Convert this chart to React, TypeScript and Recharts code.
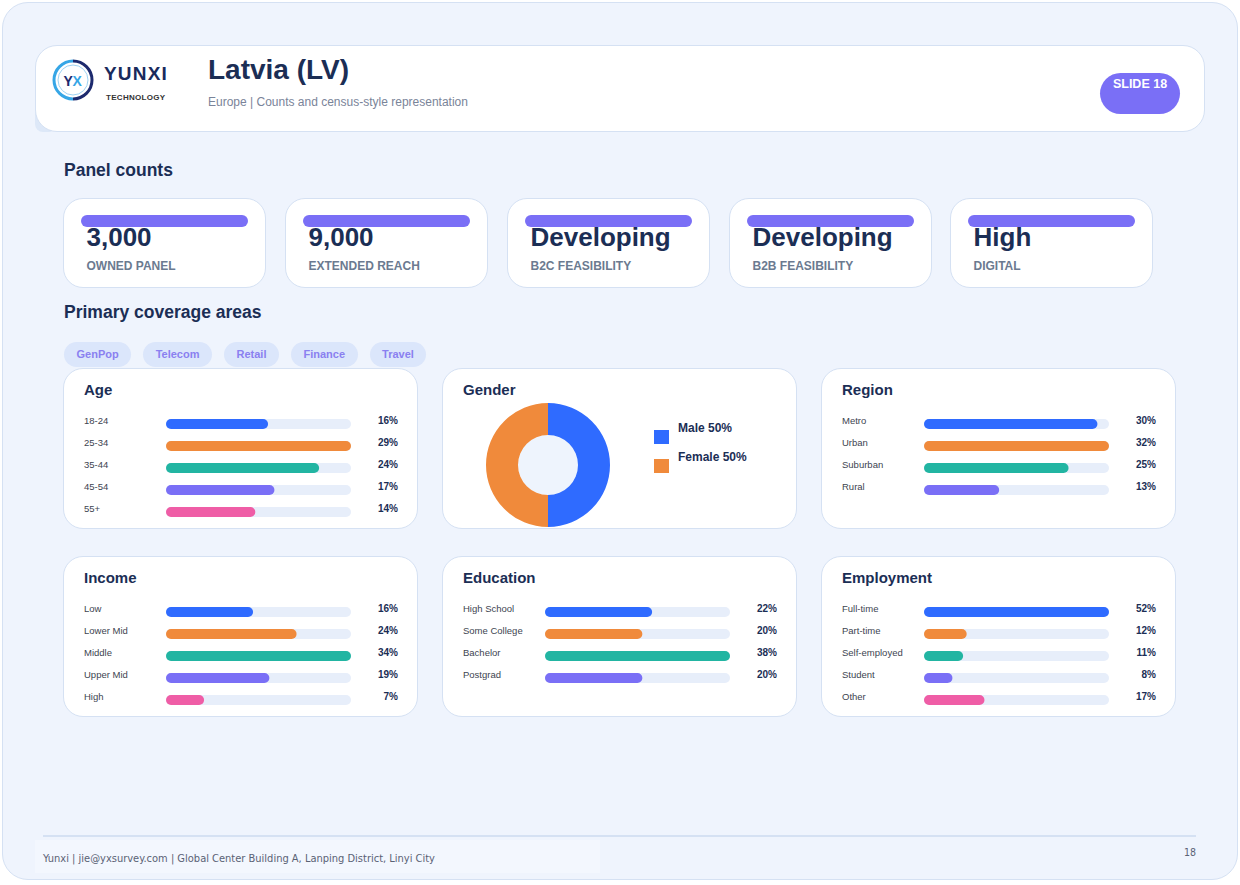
import React from 'react';
import { BarChart, Bar, XAxis, YAxis, Cell, LabelList, PieChart, Pie } from 'recharts';

// ---- data ----
const kpiValues = ['3,000', '9,000', 'Developing', 'Developing', 'High'];
const kpiLabels = ['OWNED PANEL', 'EXTENDED REACH', 'B2C FEASIBILITY', 'B2B FEASIBILITY', 'DIGITAL'];
const coverageTags = ['GenPop', 'Telecom', 'Retail', 'Finance', 'Travel'];

const ageLabels = ['18-24', '25-34', '35-44', '45-54', '55+'];
const ageValues = [16, 29, 24, 17, 14];
const genderLabels = ['Male', 'Female'];
const genderValues = [50, 50];
const regionLabels = ['Metro', 'Urban', 'Suburban', 'Rural'];
const regionValues = [30, 32, 25, 13];
const incomeLabels = ['Low', 'Lower Mid', 'Middle', 'Upper Mid', 'High'];
const incomeValues = [16, 24, 34, 19, 7];
const educationLabels = ['High School', 'Some College', 'Bachelor', 'Postgrad'];
const educationValues = [22, 20, 38, 20];
const employmentLabels = ['Full-time', 'Part-time', 'Self-employed', 'Student', 'Other'];
const employmentValues = [52, 12, 11, 8, 17];

// ---- styles ----
const FONT = '"Liberation Sans", Arial, Helvetica, sans-serif';
const NAVY = '#1b2e55';
const GREY = '#6b7a90';
const PURPLE = '#7a6ff6';
const TRACK = '#e7eefa';
const CARD_BORDER = '#d5e1f3';
const barColors = ['#2f6bff', '#f08a3b', '#22b5a2', '#7a6ff6', '#ef5da6'];
const genderColors = ['#2f6bff', '#f08a3b'];

type TxtProps = {
  x: number; cy: number; size: number; weight?: number; color: string;
  align?: 'left' | 'right' | 'center'; family?: string; spacing?: number; children: React.ReactNode;
};

function Txt({ x, cy, size, weight = 400, color, align = 'left', family = FONT, spacing = 0, children }: TxtProps) {
  const s: React.CSSProperties = {
    position: 'absolute', top: cy - size / 2, fontSize: size, lineHeight: `${size}px`,
    fontWeight: weight, color, whiteSpace: 'nowrap', fontFamily: family, letterSpacing: spacing,
  };
  if (align === 'left') s.left = x;
  if (align === 'right') { s.left = x - 400; s.width = 400; s.textAlign = 'right'; }
  if (align === 'center') { s.left = x - 200; s.width = 400; s.textAlign = 'center'; }
  return <div style={s}>{children}</div>;
}

const nameLabel = (p: any) => {
  const vb = p.viewBox && p.viewBox.height != null ? p.viewBox : p;
  const cy = vb.y + vb.height / 2;
  return (
    <text x={21} y={cy - 3.5} dominantBaseline="central" fontSize={9.5} fill="#3d4450" fontFamily={FONT}>
      {p.value}
    </text>
  );
};

const valueLabel = (p: any) => {
  const vb = p.viewBox && p.viewBox.height != null ? p.viewBox : p;
  const cy = vb.y + vb.height / 2;
  return (
    <text x={335} y={cy - 3.5} dominantBaseline="central" textAnchor="end" fontSize={10} fontWeight={700} fill={NAVY} fontFamily={FONT}>
      {p.value}
    </text>
  );
};

const cardStyle = (left: number, top: number, width: number, height: number, radius = 20): React.CSSProperties => ({
  position: 'absolute', left, top, width, height, background: '#fff',
  border: `1.5px solid ${CARD_BORDER}`, borderRadius: radius, boxSizing: 'border-box',
});

function BarCard({ left, top, title, labels, values }: { left: number; top: number; title: string; labels: string[]; values: number[] }) {
  const data = labels.map((name, i) => ({ name, value: values[i], pct: `${values[i]}%` }));
  const n = data.length;
  return (
    <div style={cardStyle(left, top, 355, 161)}>
      <Txt x={20} cy={20} size={15} weight={700} color={NAVY}>{title}</Txt>
      <div style={{ position: 'absolute', left: -1.5, top: -1.5 }}>
        <BarChart width={355} height={45 + 22 * n} data={data} layout="vertical"
          margin={{ top: 45, right: 67, bottom: 0, left: 103 }} barSize={10}>
          <XAxis type="number" hide domain={[0, 'dataMax']} />
          <YAxis type="category" dataKey="name" hide />
          <Bar dataKey="value" isAnimationActive={false} radius={5} background={{ fill: TRACK, radius: 5 }}>
            {data.map((d, i) => <Cell key={d.name} fill={barColors[i]} />)}
            <LabelList dataKey="name" content={nameLabel} />
            <LabelList dataKey="pct" content={valueLabel} />
          </Bar>
        </BarChart>
      </div>
    </div>
  );
}

function GenderCard({ left, top }: { left: number; top: number }) {
  const data = genderLabels.map((name, i) => ({ name, value: genderValues[i] }));
  return (
    <div style={cardStyle(left, top, 355, 161)}>
      <Txt x={20} cy={20} size={15} weight={700} color={NAVY}>Gender</Txt>
      <div style={{ position: 'absolute', left: 40, top: 31 }}>
        <PieChart width={130} height={130} margin={{ top: 0, right: 0, bottom: 0, left: 0 }}>
          <Pie data={[{ value: 1 }]} dataKey="value" cx={65} cy={65} outerRadius={30} fill="#eef4fd"
            stroke="none" isAnimationActive={false} />
          <Pie data={data} dataKey="value" cx={65} cy={65} innerRadius={30} outerRadius={62}
            startAngle={90} endAngle={-270} stroke="none" isAnimationActive={false}>
            {data.map((d, i) => <Cell key={d.name} fill={genderColors[i]} />)}
          </Pie>
        </PieChart>
      </div>
      {data.map((d, i) => (
        <React.Fragment key={d.name}>
          <div style={{ position: 'absolute', left: 211, top: 61 + i * 29, width: 15, height: 14, background: genderColors[i] }} />
          <Txt x={235} cy={59 + i * 29} size={12} weight={700} color={NAVY}>{`${d.name} ${d.value}%`}</Txt>
        </React.Fragment>
      ))}
    </div>
  );
}

function Logo() {
  return (
    <svg width={44} height={44} style={{ position: 'absolute', left: 51, top: 58 }}>
      <path d="M 22 3 A 19 19 0 0 0 22 41" fill="none" stroke="#36a6e6" strokeWidth={3} />
      <path d="M 22 3 A 19 19 0 0 1 22 41" fill="none" stroke="#1d2a6e" strokeWidth={3} />
      <circle cx={22} cy={22} r={15} fill="none" stroke="#9fd3f3" strokeWidth={1} />
      <text x={12.5} y={27.5} fontSize={14} fontWeight={700} fill="#1d2a6e" fontFamily={FONT}>Y</text>
      <text x={21.5} y={27.5} fontSize={14} fontWeight={700} fill="#36a6e6" fontFamily={FONT}>X</text>
    </svg>
  );
}

export default function App() {
  return (
    <div style={{ position: 'absolute', left: 0, top: 0, width: 1240, height: 885, background: '#fff', fontFamily: FONT, overflow: 'hidden' }}>
      {/* frame */}
      <div style={{ position: 'absolute', left: 2, top: 2, width: 1236, height: 878, background: '#eff4fd', border: `1.5px solid ${CARD_BORDER}`, borderRadius: 26, boxSizing: 'border-box' }} />

      {/* header */}
      <div style={{ position: 'absolute', left: 35, top: 112, width: 18, height: 20, background: '#dde8f8', borderRadius: '0 0 4px 8px' }} />
      <div style={cardStyle(35, 45, 1170, 87, 22)} />
      <Logo />
      <Txt x={104} cy={73.5} size={19} weight={700} color="#1a2a5c" spacing={1.2}>YUNXI</Txt>
      <Txt x={106} cy={98} size={8} weight={700} color="#333" spacing={0.3}>TECHNOLOGY</Txt>
      <Txt x={208} cy={70} size={28} weight={700} color={NAVY}>Latvia (LV)</Txt>
      <Txt x={208} cy={101.5} size={12} color="#7a8499">Europe | Counts and census-style representation</Txt>
      <div style={{ position: 'absolute', left: 1100, top: 73, width: 80, height: 41, borderRadius: 21, background: PURPLE }} />
      <Txt x={1140} cy={84} size={12.5} weight={700} color="#fff" align="center">SLIDE 18</Txt>

      {/* panel counts */}
      <Txt x={64} cy={171} size={17.5} weight={700} color={NAVY}>Panel counts</Txt>
      {kpiValues.map((v, i) => {
        const left = [63, 285, 507, 729, 950][i];
        return (
          <div key={i} style={cardStyle(left, 198, 203, 90, 20)}>
            <div style={{ position: 'absolute', left: 16.5, top: 15.5, width: 167, height: 12, borderRadius: 6, background: PURPLE }} />
            <Txt x={22.5} cy={37.5} size={26} weight={700} color={NAVY}>{v}</Txt>
            <Txt x={22.5} cy={66.5} size={12} weight={700} color={GREY}>{kpiLabels[i]}</Txt>
          </div>
        );
      })}

      {/* coverage */}
      <Txt x={64} cy={313} size={17.5} weight={700} color={NAVY}>Primary coverage areas</Txt>
      <div style={{ position: 'absolute', left: 64, top: 342, display: 'flex', gap: 12 }}>
        {coverageTags.map((t) => (
          <div key={t} style={{ height: 25, lineHeight: '25px', padding: '0 12.5px', borderRadius: 13, background: '#dbe6fb', color: '#8a80f0', fontSize: 11, fontWeight: 700, fontFamily: FONT }}>
            {t}
          </div>
        ))}
      </div>

      <BarCard left={63} top={368} title="Age" labels={ageLabels} values={ageValues} />
      <GenderCard left={442} top={368} />
      <BarCard left={821} top={368} title="Region" labels={regionLabels} values={regionValues} />
      <BarCard left={63} top={556} title="Income" labels={incomeLabels} values={incomeValues} />
      <BarCard left={442} top={556} title="Education" labels={educationLabels} values={educationValues} />
      <BarCard left={821} top={556} title="Employment" labels={employmentLabels} values={employmentValues} />

      {/* footer */}
      <div style={{ position: 'absolute', left: 43, top: 835, width: 1153, height: 2, background: '#d5e1f3' }} />
      <div style={{ position: 'absolute', left: 35, top: 840, width: 565, height: 33, background: '#f3f7fe' }} />
      <Txt x={43} cy={858} size={11} color="#5a6275" family={'"DejaVu Sans Condensed", "DejaVu Sans", sans-serif'}>
        Yunxi | jie@yxsurvey.com | Global Center Building A, Lanping District, Linyi City
      </Txt>
      <Txt x={1196} cy={852} size={10.5} color="#5a6275" align="right" family={'"DejaVu Sans Condensed", "DejaVu Sans", sans-serif'}>18</Txt>
    </div>
  );
}
